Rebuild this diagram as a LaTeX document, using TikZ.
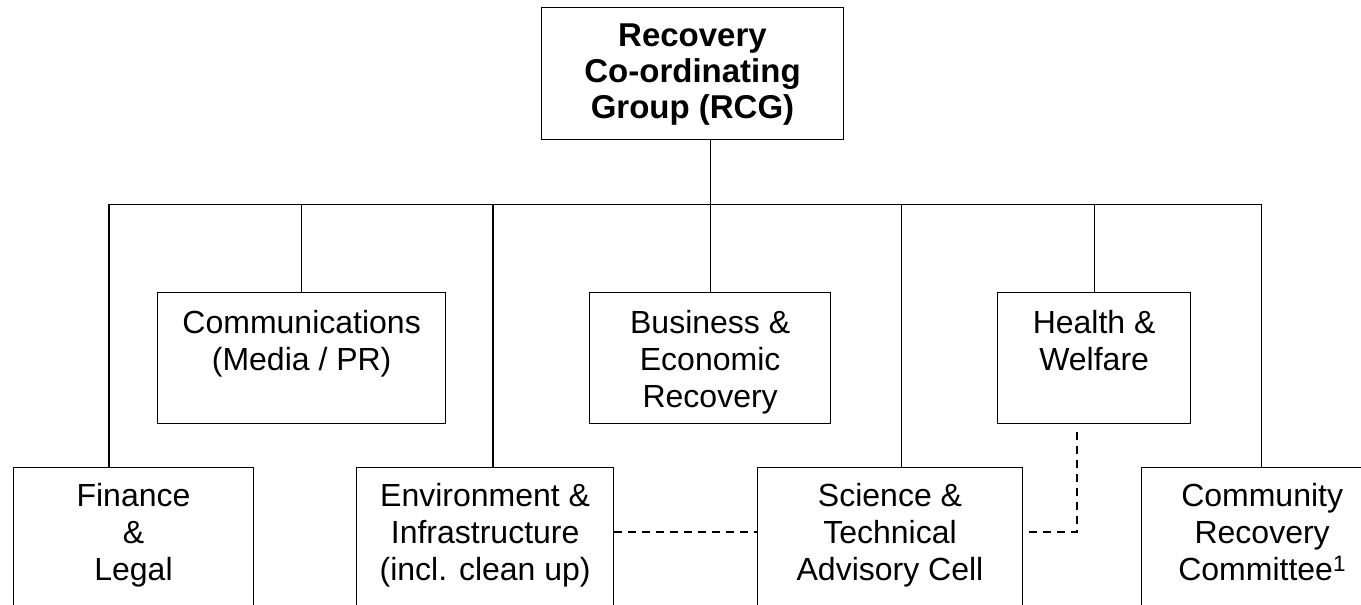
\documentclass[tikz,border=0pt]{standalone}
\usepackage{fontspec}
\setmainfont{Liberation Sans}
\usetikzlibrary{calc}
\begin{document}
\begin{tikzpicture}[x=1pt,y=-1pt,
  box/.style={draw, line width=1.3pt, rectangle, inner sep=0pt, anchor=north west},
  txt/.style={anchor=north, inner sep=0pt, align=center, font=\fontsize{32}{36.7}\selectfont},
  boldtxt/.style={txt, font=\fontsize{33}{36}\selectfont\bfseries},
  link/.style={line width=1.3pt},
  dlink/.style={line width=1.3pt, dash pattern=on 8pt off 6pt}]
\useasboundingbox (0,0) rectangle (1361,605);
\clip (0,0) rectangle (1361,605);
% boxes
\node[box, minimum width=302.3pt, minimum height=132pt] (rcg) at (540.7,7) {};
\node[box, minimum width=288pt, minimum height=130.7pt] (com) at (157,292) {};
\node[box, minimum width=241pt, minimum height=130.7pt] (bus) at (589,292) {};
\node[box, minimum width=193pt, minimum height=130.7pt] (hea) at (997,292) {};
\node[box, minimum width=240.3pt, minimum height=180pt] (fin) at (12.7,467) {};
\node[box, minimum width=257pt, minimum height=180pt] (env) at (356,467) {};
\node[box, minimum width=264.7pt, minimum height=180pt] (sci) at (757,467) {};
\node[box, minimum width=241pt, minimum height=180pt] (cmy) at (1141,467) {};
% texts
\node[boldtxt] (rcg-t) at ($(rcg.north)+(0,13.7)$) {\rule{0pt}{26pt}Recovery\\Co-ordinating\\Group (RCG)};
\node[txt] (com-t) at ($(com.north)+(0,15.6)$) {\rule{0pt}{26pt}Communications\\(Media / PR)};
\node[txt] (bus-t) at ($(bus.north)+(0,15.6)$) {\rule{0pt}{26pt}Business \&\\Economic\\Recovery};
\node[txt] (hea-t) at ($(hea.north)+(0,15.6)$) {\rule{0pt}{26pt}Health \&\\Welfare};
\node[txt] (fin-t) at ($(fin.north)+(0,13.7)$) {\rule{0pt}{26pt}Finance\\\&\\Legal};
\node[txt] (env-t) at ($(env.north)+(0,13.7)$) {\rule{0pt}{26pt}Environment \&\\Infrastructure\\(incl. clean up)};
\node[txt] (sci-t) at ($(sci.north)+(0,13.7)$) {\rule{0pt}{26pt}Science \&\\Technical\\Advisory Cell};
\node[txt] (cmy-t) at ($(cmy.north)+(0,13.7)$) {\rule{0pt}{26pt}Community\\Recovery\\Committee\textsuperscript{1}};
% bus
\coordinate (busL) at (109,204.3);
\coordinate (busR) at (1261.7,204.3);
\coordinate (envx) at (493,204.3);
\coordinate (scix) at (901.5,204.3);
\draw[link] (busL) -- (busR);
\draw[link] (rcg.south west -| bus.north) -- (bus.north);
\draw[link] (busL) -- (busL |- fin.north);
\draw[link] (com.north |- busL) -- (com.north);
\draw[link] (envx) -- (envx |- env.north);
\draw[link] (scix) -- (scix |- sci.north);
\draw[link] (hea.north |- busL) -- (hea.north);
\draw[link] (busR) -- (busR |- cmy.north);
% dashed links
\coordinate (dl) at (0,532);
\coordinate (dk) at (1077,532);
\draw[dlink] (env.north east |- dl) -- (sci.north west |- dl);
\draw[dlink] ($(sci.north east |- dl)+(6,0)$) -- (dk) -- ($(dk |- hea.south)+(0,4)$);
\end{tikzpicture}
\end{document}
